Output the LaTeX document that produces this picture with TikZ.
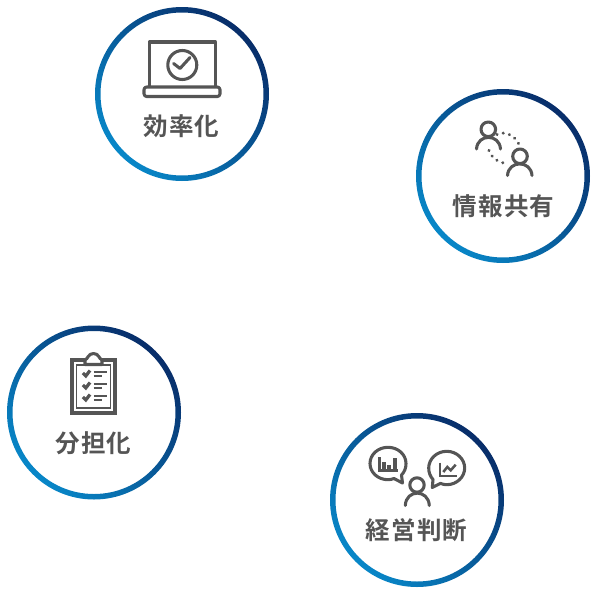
\documentclass[tikz,border=0pt]{standalone}
\usepackage{fontspec}
\newfontfamily\jpfont[LetterSpace=5]{Noto Sans CJK JP Bold}
\definecolor{ringlight}{RGB}{8,135,200}
\definecolor{ringdark}{RGB}{8,45,105}
\definecolor{icongray}{RGB}{85,85,85}
\tikzset{
  ringshade/.style={even odd rule,left color=ringlight,right color=ringdark,shading angle=135},
  iconline/.style={draw=icongray,line width=2.3pt,line cap=round,line join=round},
  thinline/.style={draw=icongray,line width=1.9pt,line cap=butt},
  dotline/.style={draw=icongray,line width=2.5pt,line cap=round,dash pattern=on 0.01pt off 4.8pt},
  ringlabel/.style={text=icongray,font=\jpfont\fontsize{18.4pt}{20pt}\selectfont,inner sep=0pt}
}
\begin{document}
\begin{tikzpicture}[x=0.75pt,y=0.75pt,yscale=-1,xscale=1]
  \useasboundingbox (0,0) rectangle (600,593);
  % rings
  \shade[ringshade] (182,94) circle [radius=87] (182,94) circle [radius=81.5];
  \shade[ringshade] (503,176) circle [radius=87] (503,176) circle [radius=81.5];
  \shade[ringshade] (94,412.5) circle [radius=87] (94,412.5) circle [radius=81.5];
  \shade[ringshade] (417,500) circle [radius=87] (417,500) circle [radius=81.5];

  % laptop
  \draw[iconline] (149.5,86) -- (149.5,42) -- (215.5,42) -- (215.5,86);
  \draw[iconline,rounded corners=2pt] (144,87) -- (220,87) -- (220,96.5) -- (144,96.5) -- cycle;
  \draw[iconline] (182.3,65) circle [radius=14.5];
  \draw[iconline] (173.6,63.5) -- (180,68.5) -- (190,57.5);
  \node[ringlabel] (effLabel) at (181.5,126) {効率化};

  % two people
  \draw[iconline] (488.3,129.3) circle [radius=7.3];
  \draw[iconline] (476.5,149) .. controls (477.5,133.5) and (499.5,133.5) .. (500.5,149);
  \draw[iconline] (520,156.3) circle [radius=7.3];
  \draw[iconline] (507.5,175.5) .. controls (508.5,160) and (531,160) .. (532,175.5);
  \draw[dotline] (497,134.5) .. controls (503,131) and (514,134) .. (518.5,143.5);
  \draw[dotline] (489,150.5) .. controls (491.5,158) and (499,163.5) .. (508.5,163.5);
  \node[ringlabel] (shareLabel) at (503.5,206) {情報共有};

  % clipboard
  \draw[iconline,line width=2.8pt,line cap=butt,line join=miter] (72,360) rectangle (115,413);
  \draw[thinline,line width=1.2pt] (76.5,365) rectangle (110.5,408);
  \draw[fill=white,iconline] (85,364.5) -- (85,360) .. controls (88,359) and (88,353.5) .. (93.5,353.5)
     .. controls (99,353.5) and (99,359) .. (102,360) -- (102,364.5) -- cycle;
  \foreach \y in {373,385,397}{
    \draw[thinline,line width=2.4pt] (82.8,\y) -- (85.8,\y+3) -- (90,\y-2.5);
    \draw[thinline,line width=2.2pt] (93.5,\y-1) -- (106.5,\y-1);
    \draw[thinline,line width=2.2pt] (93.5,\y+3) -- (102,\y+3);
  }
  \node[ringlabel] (shareWork) at (93.5,443) {分担化};

  % chat bubbles and person
  \draw[iconline] (388,479.7) .. controls (378,479.7) and (370,472.5) .. (370,463.5)
     .. controls (370,454.5) and (378,447.3) .. (388,447.3)
     .. controls (398,447.3) and (406,454.5) .. (406,463.5)
     .. controls (406,468) and (404.5,472) .. (401.5,475) -- (402.5,483) -- (394,478.5)
     .. controls (392,479.3) and (390,479.7) .. (388,479.7) -- cycle;
  \draw[thinline] (379.5,457) -- (379.5,470.3) -- (398,470.3);
  \draw[thinline,line width=2.4pt] (384,470) -- (384,461.5) (389,470) -- (389,464.5) (395,470) -- (395,457.5);
  \draw[iconline] (446.7,484.7) .. controls (456.7,484.7) and (464.7,477) .. (464.7,468)
     .. controls (464.7,459) and (456.7,451.3) .. (446.7,451.3)
     .. controls (436.7,451.3) and (428.7,459) .. (428.7,468)
     .. controls (428.7,472.5) and (430.3,476.5) .. (433,479.5) -- (432.3,487.5) -- (440.5,483.4)
     .. controls (442.5,484.2) and (444.5,484.7) .. (446.7,484.7) -- cycle;
  \draw[thinline] (440,462.7) -- (440,476) -- (456.7,476);
  \draw[thinline] (443.3,472) -- (447.3,467) -- (450.7,470.3) -- (455.7,464.7);
  \draw[iconline] (417,485) circle [radius=7.2];
  \draw[iconline] (405.3,505.5) .. controls (406,489) and (428.5,489) .. (429.3,505.5);
  \node[ringlabel] (judgeLabel) at (416.5,530) {経営判断};
\end{tikzpicture}
\end{document}
